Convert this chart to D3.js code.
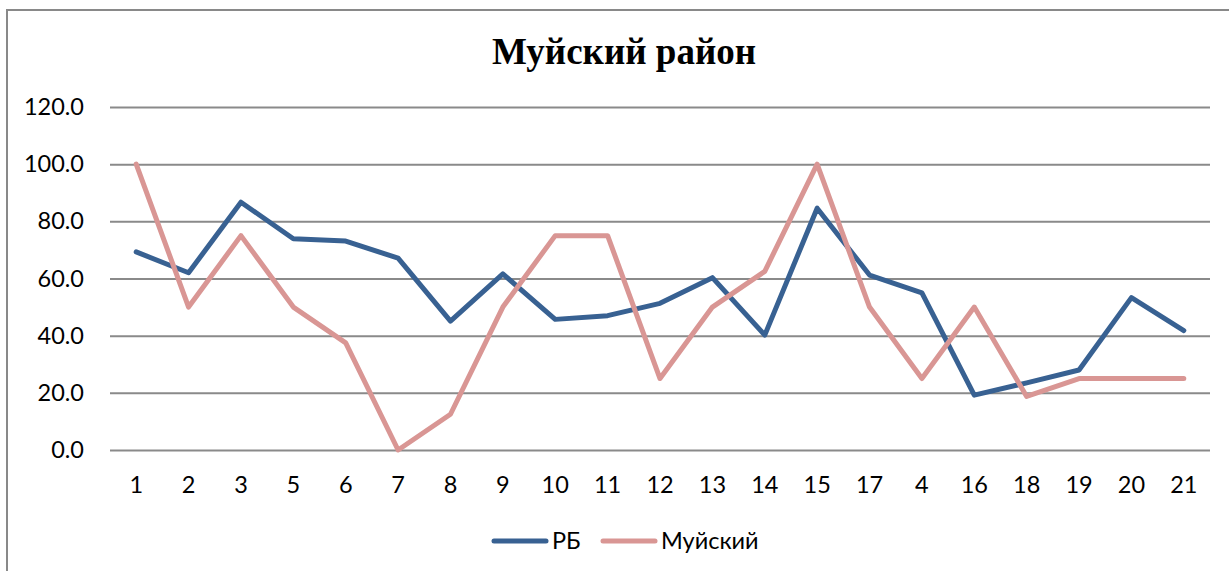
<!DOCTYPE html>
<html><head><meta charset="utf-8">
<script src="https://cdn.jsdelivr.net/npm/d3@7"></script>
<style>body{margin:0;background:#fff}svg{display:block}</style>
</head><body>
<svg id="chart" width="1229" height="571"></svg>
<script>
const title = "Муйский район";
const categories = ["1","2","3","5","6","7","8","9","10","11","12","13","14","15","17","4","16","18","19","20","21"];
const seriesNames = ["РБ","Муйский"];
const rb = [69.3,62.0,86.7,73.9,73.1,67.1,45.1,61.6,45.7,47.0,51.3,60.3,40.2,84.6,61.2,55.0,19.2,23.5,28.0,53.3,41.8];
const muy = [100,50,75,50,37.5,0,12.5,50,75,75,25,50,62.5,100,50,25,50,18.75,25,25,25];
const yTicks = [0,20,40,60,80,100,120];
const colors = ["#386192","#D99694"];

const svg = d3.select("#chart");
svg.append("rect").attr("x",7).attr("y",10).attr("width",1240).attr("height",580)
  .attr("fill","#fff").attr("stroke","#898989").attr("stroke-width",2);

const x = d3.scaleBand().domain(categories).range([110,1210]);
const y = d3.scaleLinear().domain([0,120]).range([450,107]);

svg.append("text").attr("x",624).attr("y",64).attr("text-anchor","middle")
  .attr("font-family","Liberation Serif").attr("font-weight","bold").attr("font-size",37)
  .text(title);

const yAxis = svg.append("g").attr("transform","translate(110,0)")
  .call(d3.axisLeft(y).tickValues(yTicks).tickFormat(d3.format(".1f")).tickSize(-1100).tickPadding(26));
yAxis.select(".domain").remove();
yAxis.selectAll(".tick line").attr("stroke","#8a8a8a").attr("stroke-width",2);
yAxis.selectAll(".tick text").attr("font-family","Lato").attr("font-size",23.5).attr("fill","#000");

const xAxis = svg.append("g").attr("transform","translate(0,450)")
  .call(d3.axisBottom(x).tickSize(0));
xAxis.select(".domain").remove();
xAxis.selectAll(".tick text").attr("font-family","Lato").attr("font-size",23.5).attr("fill","#000")
  .attr("y",43).attr("dy",0);

const line = d3.line().x((d,i)=>x(categories[i])+x.bandwidth()/2).y(d=>y(d));
[rb,muy].forEach((s,k)=>{
  svg.append("path").datum(s).attr("d",line).attr("fill","none")
    .attr("stroke",colors[k]).attr("stroke-width",5).attr("stroke-linejoin","round").attr("stroke-linecap","round");
});

const legend = [{x:494,name:seriesNames[0]},{x:603,name:seriesNames[1]}];
legend.forEach((l,k)=>{
  svg.append("line").attr("x1",l.x).attr("x2",l.x+52).attr("y1",541).attr("y2",541)
    .attr("stroke",colors[k]).attr("stroke-width",5).attr("stroke-linecap","round");
  svg.append("text").attr("x",l.x+58).attr("y",549).attr("font-family","Lato").attr("font-size",23.5)
    .text(l.name);
});
</script>
</body></html>
